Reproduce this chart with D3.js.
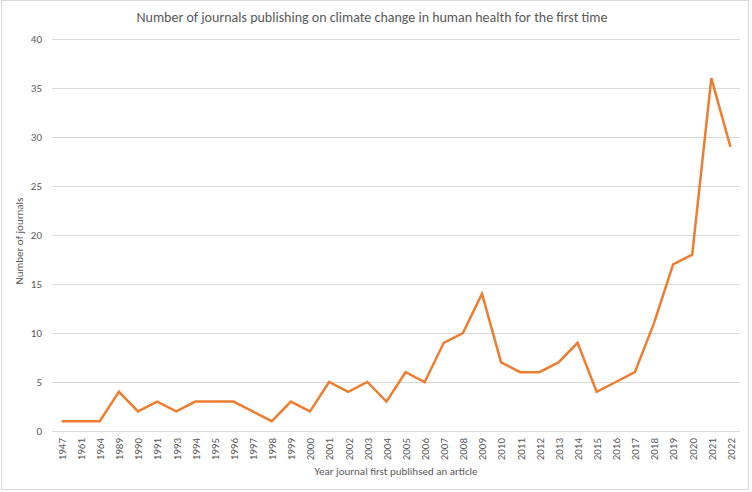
<!DOCTYPE html>
<html>
<head>
<meta charset="utf-8">
<script src="https://cdn.jsdelivr.net/npm/d3@7"></script>
<style>
  body { margin: 0; background: #fff; }
  svg { display: block; font-family: Calibri, Carlito, "Open Sans", sans-serif; }
</style>
</head>
<body>
<div id="chart"></div>
<script>
// categories on the x axis
const years = ["1947", "1961", "1964", "1989", "1990", "1991", "1993", "1994", "1995", "1996",
  "1997", "1998", "1999", "2000", "2001", "2002", "2003", "2004", "2005", "2006",
  "2007", "2008", "2009", "2010", "2011", "2012", "2013", "2014", "2015", "2016",
  "2017", "2018", "2019", "2020", "2021", "2022"];

// number of journals per year
const journals = [1, 1, 1, 4, 2, 3, 2, 3, 3, 3,
  2, 1, 3, 2, 5, 4, 5, 3, 6, 5,
  9, 10, 14, 7, 6, 6, 7, 9, 4, 5,
  6, 11, 17, 18, 36, 29];

const yTicks = [0, 5, 10, 15, 20, 25, 30, 35, 40];

const width = 752, height = 492;
const margin = { top: 39, right: 12, bottom: 61, left: 52 };

const svg = d3.select("#chart").append("svg")
  .attr("width", width)
  .attr("height", height);

// outer frame of the chart area
svg.append("rect")
  .attr("x", 1.5).attr("y", 0.5)
  .attr("width", width - 5).attr("height", height - 3)
  .attr("fill", "#fff")
  .attr("stroke", "#d9d9d9");

const x = d3.scalePoint()
  .domain(years)
  .range([margin.left, width - margin.right])
  .padding(0.5);

const y = d3.scaleLinear()
  .domain([0, 40])
  .range([height - margin.bottom, margin.top]);

// gridlines + y labels
const yAxis = d3.axisLeft(y)
  .tickValues(yTicks)
  .tickSize(-(width - margin.left - margin.right))
  .tickPadding(10);

svg.append("g")
  .attr("transform", `translate(${margin.left},0)`)
  .call(yAxis)
  .call(g => g.select(".domain").remove())
  .call(g => g.selectAll(".tick line").attr("stroke", "#d9d9d9").attr("stroke-width", 1))
  .call(g => g.selectAll(".tick text")
    .attr("fill", "#595959").attr("font-size", 11).attr("font-family", "Calibri, Carlito, 'Open Sans', sans-serif"));

// x labels rotated
const xAxis = d3.axisBottom(x).tickSize(0).tickPadding(0);

svg.append("g")
  .attr("transform", `translate(0,${height - margin.bottom})`)
  .call(xAxis)
  .call(g => g.select(".domain").remove())
  .call(g => g.selectAll(".tick text")
    .attr("fill", "#595959")
    .attr("font-size", 11)
    .attr("font-family", "Calibri, Carlito, 'Open Sans', sans-serif")
    .attr("text-anchor", "end")
    .attr("dy", "0.35em")
    .attr("transform", "translate(0,7) rotate(-90)")
    .attr("x", 0).attr("y", 0));

// the series
const line = d3.line()
  .x((d, i) => x(years[i]))
  .y(d => y(d));

svg.append("path")
  .datum(journals)
  .attr("fill", "none")
  .attr("stroke", "#ED7D31")
  .attr("stroke-width", 2.5)
  .attr("stroke-linejoin", "miter")
  .attr("d", line);

// title
svg.append("text")
  .attr("x", 372).attr("y", 22)
  .attr("text-anchor", "middle")
  .attr("fill", "#595959")
  .attr("font-size", 14)
  .text("Number of journals publishing on climate change in human health for the first time");

// axis titles
svg.append("text")
  .attr("x", 396).attr("y", 475)
  .attr("text-anchor", "middle")
  .attr("fill", "#595959")
  .attr("font-size", 11)
  .text("Year journal first publihsed an article");

svg.append("text")
  .attr("transform", "translate(23,241) rotate(-90)")
  .attr("text-anchor", "middle")
  .attr("fill", "#595959")
  .attr("font-size", 11)
  .text("Number of journals");
</script>
</body>
</html>
